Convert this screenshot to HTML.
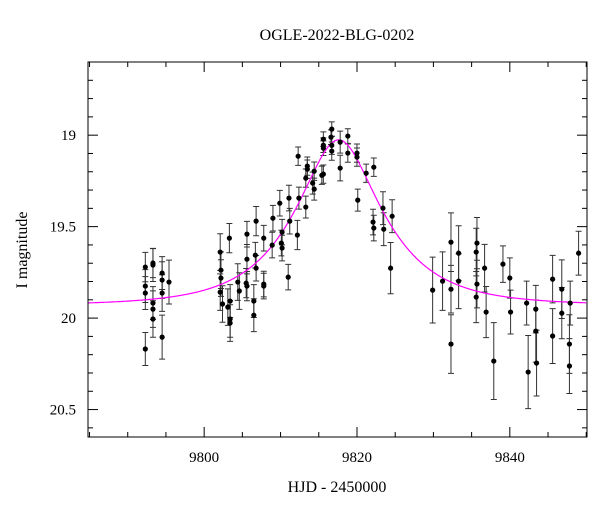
<!DOCTYPE html>
<html><head><meta charset="utf-8"><style>
body{margin:0;background:#fff}
svg{display:block;font-family:"Liberation Serif",serif}
</style></head><body>
<svg id="chart" width="600" height="512">
<text x="337" y="40" font-size="16" text-anchor="middle">OGLE-2022-BLG-0202</text>
<text x="337" y="492" font-size="16" text-anchor="middle">HJD - 2450000</text>
<text transform="translate(27,250) rotate(-90)" font-size="16" text-anchor="middle">I magnitude</text>
<g id="ticks"></g>
<g id="errs"></g>
<path id="model" fill="none" stroke="#ff00ff" stroke-width="1.2"/>
<g id="pts"></g>
<rect x="88" y="62" width="499" height="375" fill="none" stroke="#000" stroke-width="1"/>
</svg>
<script>
const hjd=[9792.3,9792.3,9792.3,9792.3,9793.3,9793.3,9793.3,9793.3,9793.3,9794.5,9794.5,9794.5,9794.5,9795.4,
9802.1,9802.2,9802.2,9802.1,9802.4,9803.3,9803.1,9803.4,9803.4,9803.4,9804.4,9804.6,9805.6,9805.6,9805.5,9805.6,9806.5,9806.5,9806.8,9806.7,9806.8,9807.8,9807.8,9807.8,9809.0,9808.9,9809.9,9810.2,9810.1,9810.2,9811.1,9811.2,9811.0,9812.2,9812.3,9812.4,9813.3,9813.3,9813.5,9813.5,9814.2,9814.4,9814.4,9815.6,9815.6,9815.6,9815.6,9815.4,
9816.7,9816.6,9816.7,9816.7,9817.8,9817.8,9818.8,9818.8,9820.0,9820.0,9820.1,9821.2,9822.2,9822.1,9822.2,9823.4,9823.5,9824.6,9824.4,
9829.9,9831.2,9832.3,9832.3,9832.3,9833.3,9833.3,9835.7,9835.6,9835.7,9835.6,9836.7,9836.9,9837.9,9839.1,9840.0,9840.1,9842.2,9842.4,9843.4,9843.4,9843.5,9845.6,9845.6,9846.8,9846.8,9847.9,9847.8,9847.8,9849.0];
const mag=[19.721,19.825,19.863,20.169,19.699,19.710,19.918,19.951,20.005,19.754,19.792,19.863,20.104,19.803,
19.639,19.738,19.781,19.858,19.923,19.563,19.940,19.907,20.005,20.027,19.803,19.852,19.541,19.678,19.809,19.825,19.907,19.984,19.470,19.656,19.727,19.563,19.814,19.825,19.454,19.601,19.372,19.530,19.590,19.617,19.344,19.470,19.776,19.546,19.115,19.344,19.393,19.235,19.186,19.169,19.262,19.295,19.197,19.022,19.055,19.071,19.213,19.219,
18.967,19.011,19.055,19.087,19.038,19.180,19.005,19.098,19.098,19.120,19.355,19.208,19.175,19.475,19.508,19.399,19.514,19.443,19.727,
19.847,19.798,19.585,19.842,20.142,19.645,19.798,19.590,19.639,19.814,19.885,19.727,19.967,20.235,19.705,19.781,19.967,19.918,20.295,19.951,20.071,20.246,19.787,20.098,19.842,19.973,19.918,20.142,20.262,19.645];
const err=[0.08,0.09,0.09,0.09,0.08,0.09,0.09,0.1,0.1,0.09,0.1,0.1,0.12,0.12,
0.1,0.1,0.1,0.1,0.1,0.08,0.1,0.09,0.1,0.1,0.1,0.1,0.07,0.08,0.08,0.08,0.09,0.09,0.08,0.07,0.07,0.07,0.07,0.07,0.07,0.07,0.07,0.07,0.07,0.07,0.07,0.07,0.07,0.08,0.05,0.06,0.06,0.05,0.05,0.05,0.06,0.06,0.05,0.04,0.04,0.04,0.05,0.05,
0.04,0.04,0.05,0.05,0.06,0.07,0.04,0.05,0.05,0.05,0.06,0.05,0.05,0.07,0.07,0.09,0.09,0.09,0.14,
0.18,0.16,0.16,0.13,0.16,0.15,0.15,0.14,0.13,0.13,0.14,0.13,0.14,0.21,0.1,0.11,0.12,0.12,0.2,0.13,0.17,0.18,0.13,0.15,0.16,0.14,0.12,0.16,0.15,0.12];
const xTicks=[9800,9820,9840];
const yTicks=[19,19.5,20,20.5];
const t0=9817.6,u0=0.47,tE=10,base=19.93;
const NS="http://www.w3.org/2000/svg";
const L=88,R=587,T=62,B=437,X0=9784.8,X1=9850.1,Y0=18.6,Y1=20.65;
const sx=v=>L+(v-X0)/(X1-X0)*(R-L);
const sy=v=>T+(v-Y0)/(Y1-Y0)*(B-T);
function mk(tag,at,parent){const e=document.createElementNS(NS,tag);for(const k in at)e.setAttribute(k,at[k]);parent.appendChild(e);return e;}
const tk=document.getElementById('ticks');
function line(x1,y1,x2,y2){const e=mk('line',{x1,y1,x2,y2,stroke:'#000','stroke-width':1},tk);

}
for(let v=9785;v<=9850;v+=5){const x=sx(v),len=(v%20===0)?10:5;line(x,B,x,B-len);line(x,T,x,T+len);}
for(let i=19;i<=206;i++){const v=i/10;if(v<Y0||v>Y1)continue;const y=sy(v),len=(i%5===0)?10:5;line(L,y,L+len,y);line(R,y,R-len,y);}
xTicks.forEach(v=>{const t=mk('text',{x:sx(v),y:B+25,'font-size':15,'text-anchor':'middle'},tk);t.textContent=v;

});
yTicks.forEach(v=>{const t=mk('text',{x:L-12,y:sy(v)+5,'font-size':15,'text-anchor':'end'},tk);t.textContent=v;

});
function A(t){const u=Math.sqrt(u0*u0+((t-t0)/tE)**2);return (u*u+2)/(u*Math.sqrt(u*u+4));}
let d='';for(let t=X0;t<=X1;t+=0.1){d+=(d?'L':'M')+sx(t).toFixed(1)+','+sy(base-2.5*Math.log10(A(t))).toFixed(1);}
document.getElementById('model').setAttribute('d',d);
const eg=document.getElementById('errs'),pg=document.getElementById('pts');
hjd.forEach((t,i)=>{const x=sx(t),y1=sy(mag[i]-err[i]),y2=sy(mag[i]+err[i]);
const g=mk('path',{d:`M${x},${y1}V${y2}M${x-3},${y1}H${x+3}M${x-3},${y2}H${x+3}`,stroke:'#333','stroke-width':1,fill:'none'},eg);


const c=mk('circle',{cx:x,cy:sy(mag[i]),r:2.6,fill:'#000'},pg);

});
</script>
</body></html>
